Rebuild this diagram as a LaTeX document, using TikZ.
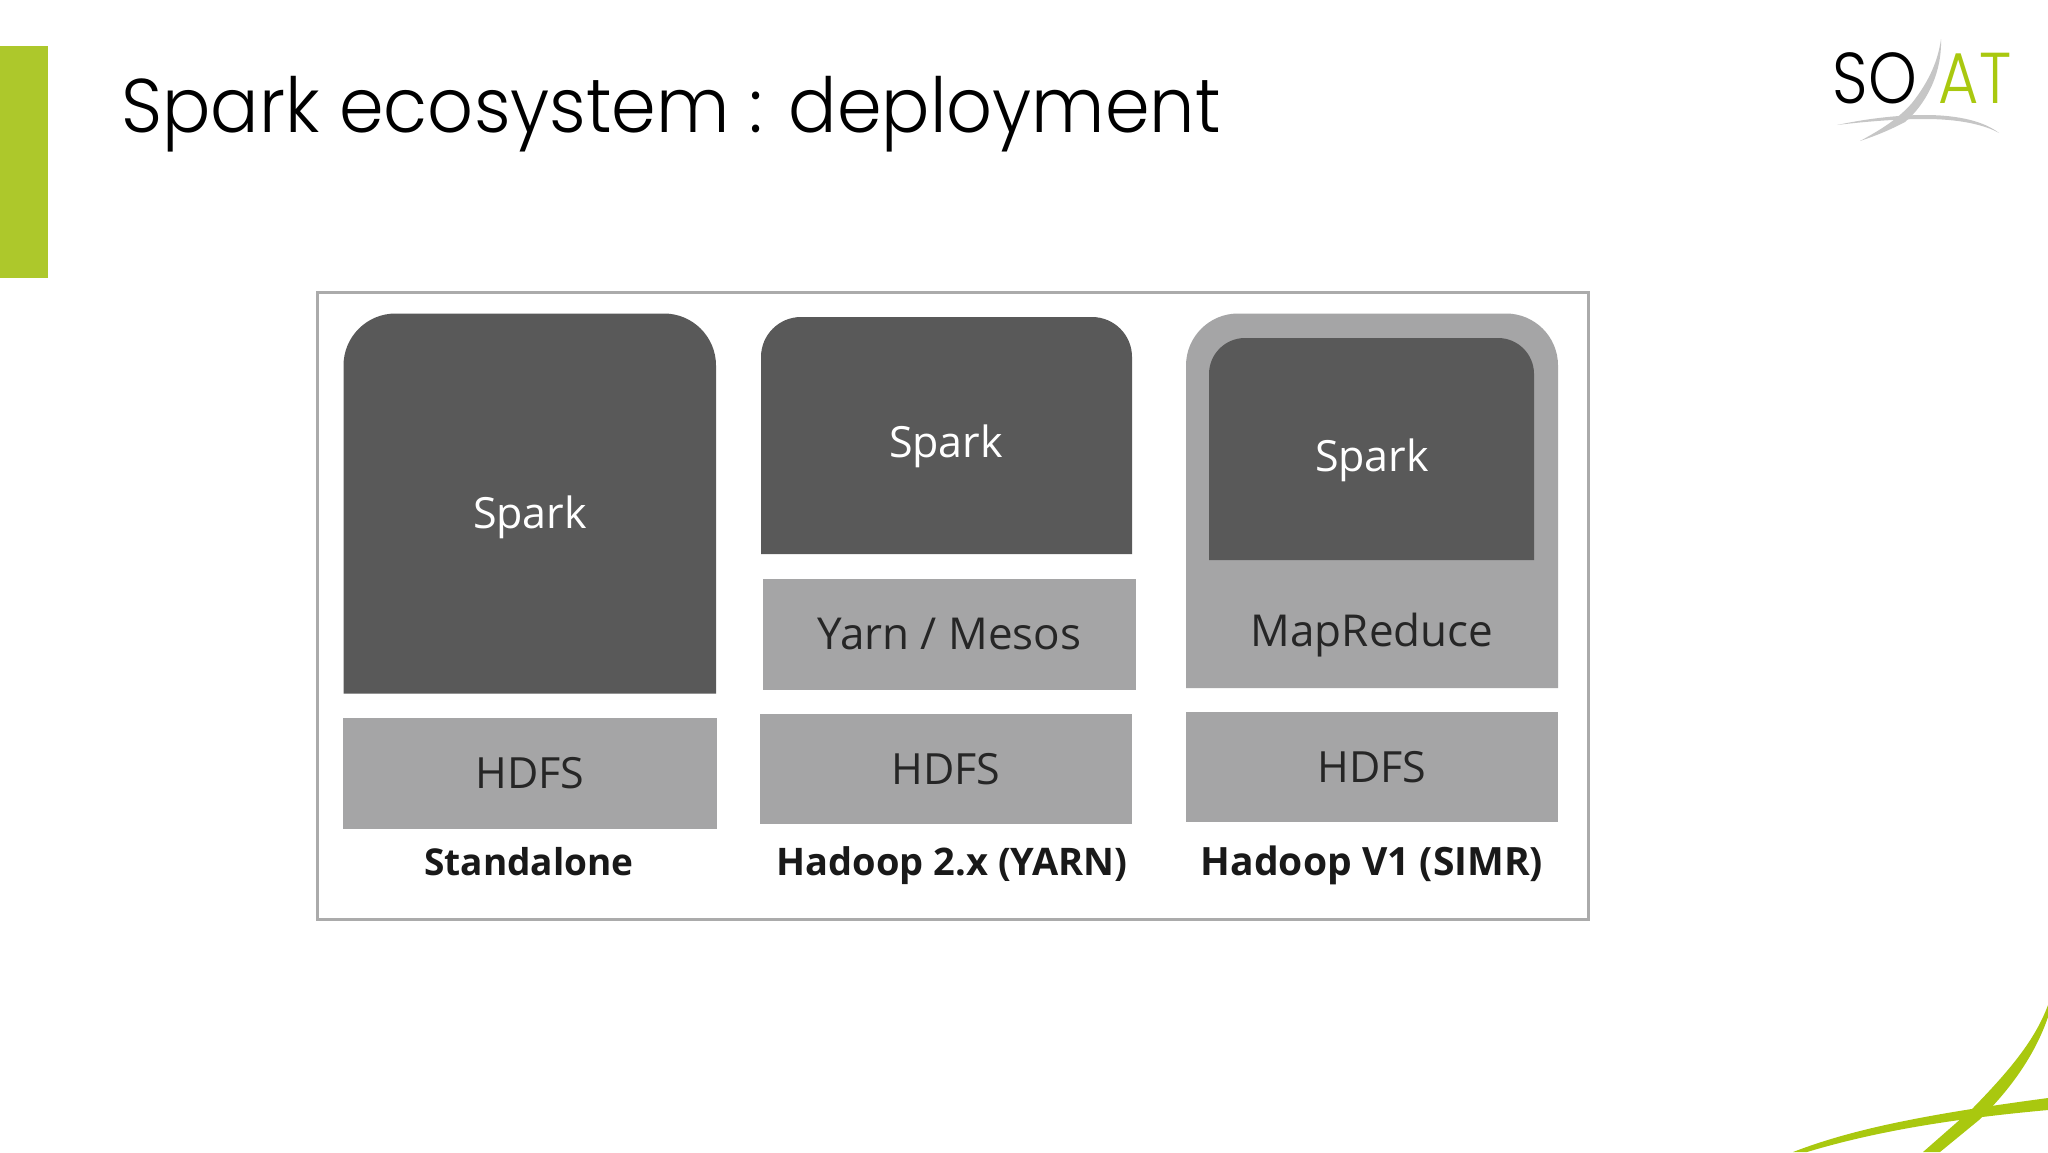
\documentclass[tikz,border=0pt]{standalone}
\usepackage{fontspec}
\setmainfont{Open Sans}
\newfontfamily\titlefont{Poppins Light}
\usetikzlibrary{positioning}

\definecolor{soatgreen}{HTML}{A9C80F}
\definecolor{bargreen}{HTML}{ADC82B}
\definecolor{darkfill}{HTML}{595959}
\definecolor{lightfill}{HTML}{A5A5A6}
\definecolor{framegray}{HTML}{ABABAB}
\definecolor{swooshgray}{HTML}{C6C6C6}

\tikzset{
  lightbox/.style={fill=lightfill,inner sep=0pt,text=black!85,font=\fontsize{21.5}{25}\selectfont},
  sparktext/.style={text=white,inner sep=0pt,font=\fontsize{21.5}{25}\selectfont},
  boxtext/.style={text=black!85,inner sep=0pt,font=\fontsize{22}{25}\selectfont},
  capt/.style={text=black!90,inner sep=0pt,font=\fontsize{19}{22}\selectfont\bfseries},
  logotext/.style={inner sep=0pt,xscale=0.86,transform shape,font=\fontsize{36}{40}\titlefont}
}

\begin{document}
\begin{tikzpicture}[x=0.5pt,y=-0.5pt]
    \useasboundingbox (0,0) rectangle (2048,1152);

    % slide
    \fill[bargreen] (0,46) rectangle (48,278);
    \node(title) at (121,114) [anchor=west,inner sep=0pt,xscale=0.944,transform shape,font=\fontsize{38}{44}\titlefont] {Spark ecosystem : deployment};

    % logo
    \fill[swooshgray] (1941,39) .. controls (1942,75) and (1925,105) .. (1905,122) .. controls (1890,130) and (1875,136) .. (1860,141) .. controls (1880,130) and (1897,120) .. (1912,103) .. controls (1930,80) and (1938,60) .. (1941,39) -- cycle;
    \fill[swooshgray] (1837,125) .. controls (1870,118) and (1900,115) .. (1925,115) .. controls (1960,115) and (1985,122) .. (1999,133) .. controls (1985,125) and (1960,119) .. (1925,119) .. controls (1900,119) and (1870,121) .. (1837,125) -- cycle;
    \node(so) at (1875,78) [logotext,text=black] {SO};
    \node(at) at (1975,78) [logotext,text=soatgreen] {AT};

    % corner swoosh
    \fill[soatgreen] (2048,1005) .. controls (2035,1040) and (2010,1070) .. (1972,1109) -- (1923,1152) -- (1940,1152) -- (1979,1120) .. controls (2010,1090) and (2035,1055) .. (2048,1017) -- cycle;
    \fill[soatgreen] (1793,1152) .. controls (1850,1130) and (1920,1115) .. (2048,1098) -- (2048,1110) .. controls (1960,1118) and (1880,1130) .. (1807,1152) -- cycle;

    % frame
    \draw[framegray,line width=1.5pt,fill=white] (317,292.5) rectangle (1588,919);

    % standalone
    \fill[darkfill,rounded corners=26pt] (343.5,693.5) -- (343.5,313.5) -- (716,313.5) [sharp corners] -- (716,693.5) -- cycle;
    \node(spark1) at (530,517) [sparktext] {Spark};
    \node(hdfs1) at (530,773.5) [lightbox,minimum width=187pt,minimum height=55.5pt] {HDFS};
    \node(cap1) at (529,862) [capt,font=\fontsize{18.5}{22}\selectfont\bfseries] {Standalone};

    % yarn
    \fill[darkfill,rounded corners=20pt] (761,554) -- (761,317) -- (1132,317) [sharp corners] -- (1132,554) -- cycle;
    \node(spark2) at (946,446) [sparktext] {Spark};
    \node(yarn) at (949.5,634) [lightbox,minimum width=186.5pt,minimum height=55.5pt,font=\fontsize{22}{25}\selectfont] {Yarn / Mesos};
    \node(hdfs2) at (946,769) [lightbox,minimum width=186pt,minimum height=55pt] {HDFS};
    \node(cap2) at (952,866) [capt] {Hadoop 2.x (YARN)};

    % simr
    \fill[lightfill,rounded corners=26pt] (1186,688) -- (1186,313.5) -- (1558,313.5) [sharp corners] -- (1558,688) -- cycle;
    \fill[darkfill,rounded corners=18pt] (1209,560) -- (1209,338) -- (1534,338) [sharp corners] -- (1534,560) -- cycle;
    \node(spark3) at (1372,460) [sparktext] {Spark};
    \node(mapred) at (1372,635) [boxtext] {MapReduce};
    \node(hdfs3) at (1372,767) [lightbox,minimum width=186pt,minimum height=55pt] {HDFS};
    \node(cap3) at (1372,865) [capt,font=\fontsize{19.5}{22}\selectfont\bfseries] {Hadoop V1 (SIMR)};
\end{tikzpicture}
\end{document}
